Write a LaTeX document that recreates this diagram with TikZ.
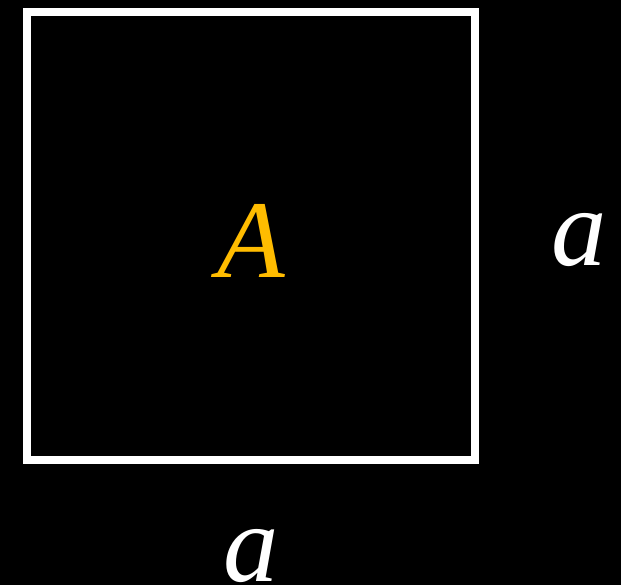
\documentclass[tikz,border=0pt]{standalone}
\usepackage{fontspec}
\setmainfont{Liberation Serif}
\usetikzlibrary{positioning}

\definecolor{amber}{RGB}{255,188,0}

\begin{document}
\begin{tikzpicture}[
    x=0.75pt, y=-0.75pt,
    side/.style={draw=white, line width=6pt, minimum width=336pt, minimum height=336pt,
                 inner sep=0pt, fill=black},
    glyph/.style={inner sep=0pt, font=\fontsize{83}{88}\selectfont\itshape}
]
\fill[black] (0,0) rectangle (621,585);
\useasboundingbox (0,0) rectangle (621,585);
\node[side] (sq) at (251,236) {};
\node[glyph, text=amber] (area) at (251.5,240.5) {A};
\node[glyph, text=white] (right) at (579.5,240) {a};
\node[glyph, text=white] (below) at (251,556) {a};
\end{tikzpicture}
\end{document}
